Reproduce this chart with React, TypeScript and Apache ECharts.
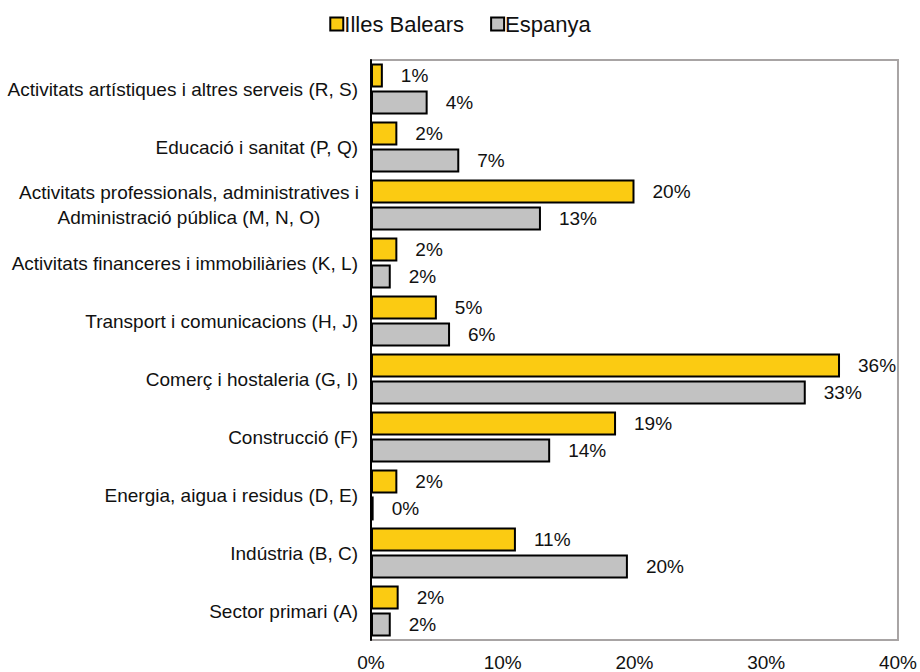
import React, { useEffect, useRef } from "react";
import * as echarts from "echarts";

const categories = [
  "Activitats artístiques i altres serveis (R, S)",
  "Educació i sanitat (P, Q)",
  "Activitats professionals, administratives i\nAdministració pública (M, N, O)",
  "Activitats financeres i immobiliàries (K, L)",
  "Transport i comunicacions (H, J)",
  "Comerç i hostaleria (G, I)",
  "Construcció (F)",
  "Energia, aigua i residus (D, E)",
  "Indústria (B, C)",
  "Sector primari (A)",
];

const balears = [0.9, 2.0, 20.0, 2.0, 5.0, 35.6, 18.6, 2.0, 11.0, 2.1];
const espanya = [4.3, 6.7, 12.9, 1.5, 6.0, 33.0, 13.6, 0.2, 19.5, 1.5];

const xTicks = [0, 10, 20, 30, 40];

const FONT = 'Arial, "Liberation Sans", Helvetica, sans-serif';

export default function App() {
  const ref = useRef<HTMLDivElement>(null);
  useEffect(() => {
    document.body.style.margin = "0";
    if (!ref.current) return;
    const chart = echarts.init(ref.current, undefined, { renderer: "svg" });
    const labelStyle = {
      show: true,
      position: "right" as const,
      distance: 18,
      fontSize: 19,
      fontFamily: FONT,
      color: "#111",
      formatter: (p: any) => Math.round(p.value) + "%",
    };
    chart.setOption({
      animation: false,
      backgroundColor: "#fff",
      textStyle: { fontFamily: FONT },
      legend: {
        top: 8,
        left: "center",
        icon: "rect",
        itemWidth: 13,
        itemHeight: 13,
        itemGap: 26,
        itemStyle: { borderColor: "#000", borderWidth: 2 },
        textStyle: { fontSize: 22, color: "#111", fontFamily: FONT, padding: [0, 0, 0, -4] },
        data: ["Illes Balears", "Espanya"],
      },
      grid: {
        left: 371,
        right: 19,
        top: 60,
        bottom: 32,
        show: true,
        borderColor: "#a8a4a4",
        borderWidth: 2,
        containLabel: false,
      },
      xAxis: {
        type: "value",
        min: xTicks[0],
        max: xTicks[xTicks.length - 1],
        interval: 10,
        axisLine: { show: false },
        axisTick: { show: false },
        splitLine: { show: false },
        axisLabel: {
          margin: 13,
          fontSize: 19,
          color: "#111",
          fontFamily: FONT,
          formatter: "{value}%",
        },
      },
      yAxis: {
        type: "category",
        inverse: true,
        data: categories,
        axisLine: { show: true, lineStyle: { color: "#000", width: 2 } },
        axisTick: { show: false },
        axisLabel: {
          margin: 13,
          fontSize: 19,
          color: "#111",
          fontFamily: FONT,
          lineHeight: 25,
          formatter: (v: string) => {
            if (v.includes("\n")) {
              return v
                .split("\n")
                .map((l) => "{c|" + l + "}")
                .join("\n");
            }
            return v;
          },
          rich: {
            c: {
              width: 338,
              align: "center",
              fontSize: 19,
              color: "#111",
              fontFamily: FONT,
              lineHeight: 25,
            },
          },
        },
      },
      series: [
        {
          name: "Illes Balears",
          type: "bar",
          data: balears,
          barWidth: 24,
          barGap: "12%",
          itemStyle: { color: "#FBCB12", borderColor: "#000", borderWidth: 2 },
          label: labelStyle,
        },
        {
          name: "Espanya",
          type: "bar",
          data: espanya,
          barWidth: 24,
          itemStyle: { color: "#C2C2C2", borderColor: "#000", borderWidth: 2 },
          label: labelStyle,
        },
      ],
    });
    return () => chart.dispose();
  }, []);
  return <div ref={ref} style={{ width: 920, height: 672 }} />;
}
